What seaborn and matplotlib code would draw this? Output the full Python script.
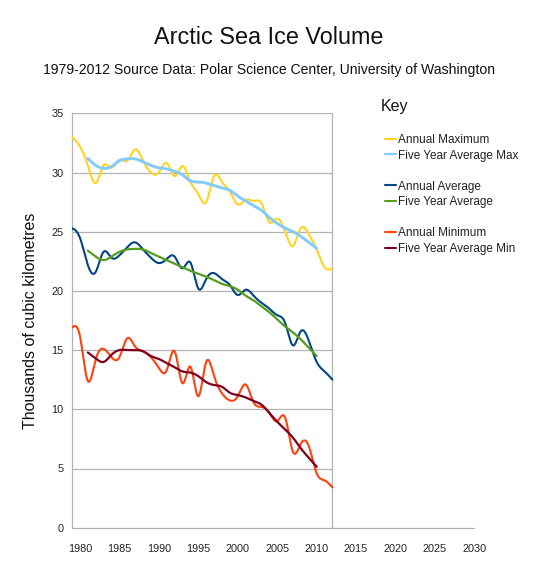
import numpy as np
import matplotlib
matplotlib.use('Agg')
import matplotlib.pyplot as plt
from matplotlib.lines import Line2D
from matplotlib.ticker import MultipleLocator
import seaborn as sns

sns.set_theme(style='white')
plt.rcParams['font.family'] = ['Liberation Sans', 'DejaVu Sans']

# yearly values, thousands of km3
years = list(range(1979, 2013))
years5 = list(range(1981, 2011))   # centred five year averages

annual_max = [33.0, 32.2, 30.6, 29.1, 30.6, 30.4, 31.05, 31.0, 31.95, 31.0,
              30.0, 30.0, 30.8, 29.7, 30.55, 29.2, 28.2, 27.5, 29.7, 29.2,
              28.4, 27.3, 27.7, 27.6, 27.4, 25.8, 26.1, 25.0, 23.8, 25.3,
              24.8, 23.5, 22.0, 21.9]
five_max = [31.2, 30.6, 30.35, 30.5, 31.0, 31.15, 31.15, 30.9, 30.6, 30.4,
            30.3, 30.1, 29.8, 29.3, 29.2, 29.1, 28.9, 28.7, 28.5, 28.0,
            27.6, 27.2, 26.8, 26.2, 25.7, 25.3, 25.0, 24.6, 24.1, 23.6]

annual_avg = [25.3, 24.5, 22.2, 21.6, 23.3, 22.8, 23.0, 23.7, 24.1, 23.5,
              22.8, 22.35, 22.7, 22.9, 21.9, 22.4, 20.2, 21.0, 21.5, 21.0,
              20.5, 19.65, 20.1, 19.6, 19.0, 18.5, 17.95, 17.3, 15.4, 16.6,
              15.8, 14.0, 13.2, 12.5]
five_avg = [23.4, 22.9, 22.6, 22.9, 23.3, 23.5, 23.55, 23.5, 23.2, 22.9,
            22.6, 22.3, 22.0, 21.7, 21.45, 21.2, 20.9, 20.6, 20.4, 20.1,
            19.6, 19.2, 18.7, 18.2, 17.6, 17.0, 16.5, 15.9, 15.2, 14.5]

annual_min = [16.9, 16.2, 12.4, 14.2, 15.1, 14.4, 14.4, 16.0, 15.3, 14.9,
              14.4, 13.5, 13.3, 14.9, 12.2, 13.6, 11.1, 14.0, 12.8, 11.35,
              10.75, 11.1, 12.1, 10.6, 10.2, 9.7, 9.0, 9.3, 6.4, 7.1,
              6.9, 4.6, 4.0, 3.4]
five_min = [14.8, 14.3, 14.0, 14.6, 15.0, 15.0, 15.0, 14.9, 14.5, 14.25,
            13.9, 13.55, 13.2, 13.1, 12.8, 12.3, 12.05, 11.9, 11.4, 11.2,
            11.0, 10.7, 10.4, 9.7, 8.95, 8.3, 7.6, 6.7, 5.9, 5.15]

series = [
    ('Annual Maximum', years, annual_max, '#ffd320', 1.5),
    ('Five Year Average Max', years5, five_max, '#83caff', 2.1),
    ('Annual Average', years, annual_avg, '#004586', 1.5),
    ('Five Year Average', years5, five_avg, '#579d1c', 1.6),
    ('Annual Minimum', years, annual_min, '#ff420e', 1.5),
    ('Five Year Average Min', years5, five_min, '#7e0021', 1.6),
]


def spline(xs, ys, n=20):
    # natural cubic spline through the yearly points (the chart uses smoothed lines)
    x = np.asarray(xs, float)
    y = np.asarray(ys, float)
    h = np.diff(x)
    N = len(x)
    A = np.zeros((N, N))
    r = np.zeros(N)
    A[0, 0] = A[-1, -1] = 1
    for i in range(1, N - 1):
        A[i, i - 1] = h[i - 1]
        A[i, i] = 2 * (h[i - 1] + h[i])
        A[i, i + 1] = h[i]
        r[i] = 3 * ((y[i + 1] - y[i]) / h[i] - (y[i] - y[i - 1]) / h[i - 1])
    c = np.linalg.solve(A, r)
    b = (y[1:] - y[:-1]) / h - h * (2 * c[:-1] + c[1:]) / 3
    d = (c[1:] - c[:-1]) / (3 * h)
    xx = np.linspace(x[0], x[-1], (N - 1) * n + 1)
    idx = np.clip(np.searchsorted(x, xx, side='right') - 1, 0, N - 2)
    t = xx - x[idx]
    yy = y[idx] + b[idx] * t + c[idx] * t ** 2 + d[idx] * t ** 3
    return xx, yy


fig = plt.figure(figsize=(5.4, 5.87), dpi=100)
ax = fig.add_axes([72 / 540, 1 - 527.7 / 587, (474.5 - 72) / 540, (527.7 - 113.3) / 587])

grid_c = '#b3b3b3'
ax.hlines(range(5, 36, 5), 1979, 2012, color=grid_c, lw=0.9, zorder=1)
ax.vlines(2012, 0, 35, color=grid_c, lw=0.9, zorder=1)

handles = []
for i, (name, xs, ys, col, lw) in enumerate(series):
    xx, yy = spline(xs, ys)
    sns.lineplot(x=xx, y=yy, color=col, lw=lw, ax=ax, estimator=None, sort=False, zorder=3)
    handles.append(Line2D([], [], color=col, lw=1.5, label=name))
    if i in (1, 3):
        handles.append(Line2D([], [], color='none', label=' '))

ax.set_xlim(1979, 2030)
ax.set_ylim(0, 35)
ax.set_xticks(range(1980, 2031, 5))
ax.xaxis.set_minor_locator(MultipleLocator(1))
ax.set_yticks(range(0, 36, 5))
for s in ['top', 'right']:
    ax.spines[s].set_visible(False)
for s in ['left', 'bottom']:
    ax.spines[s].set_color(grid_c)
    ax.spines[s].set_linewidth(0.9)
ax.tick_params(axis='both', which='both', direction='out', color=grid_c, width=0.8,
               labelsize=7.8, labelcolor='#222222')
ax.tick_params(axis='x', which='major', length=5, pad=7)
ax.tick_params(axis='x', which='minor', length=3.5)
ax.tick_params(axis='y', which='major', length=4, pad=2)
ax.set_ylabel('Thousands of cubic kilometres', fontsize=11.5, color='#111111', labelpad=10)
ax.set_xlabel('')

fig.text(0.498, 1 - 37 / 587, 'Arctic Sea Ice Volume', ha='center', va='center',
         fontsize=16.8, color='#111111')
fig.text(0.498, 1 - 70 / 587, '1979-2012 Source Data: Polar Science Center, University of Washington',
         ha='center', va='center', fontsize=10.05, color='#111111')
fig.text(381 / 540, 1 - 107 / 587, 'Key', ha='left', va='center', fontsize=11.5, color='#111111')

leg = fig.legend(handles=handles, labels=[h.get_label() for h in handles],
                 loc='upper left', bbox_to_anchor=(385 / 540, 1 - 134 / 587),
                 frameon=False, fontsize=8.5, handlelength=0.9, handletextpad=0.2,
                 labelspacing=0.3, borderaxespad=0, borderpad=0)
for t in leg.get_texts():
    t.set_color('#222222')

fig.savefig('out.png', dpi=100)
